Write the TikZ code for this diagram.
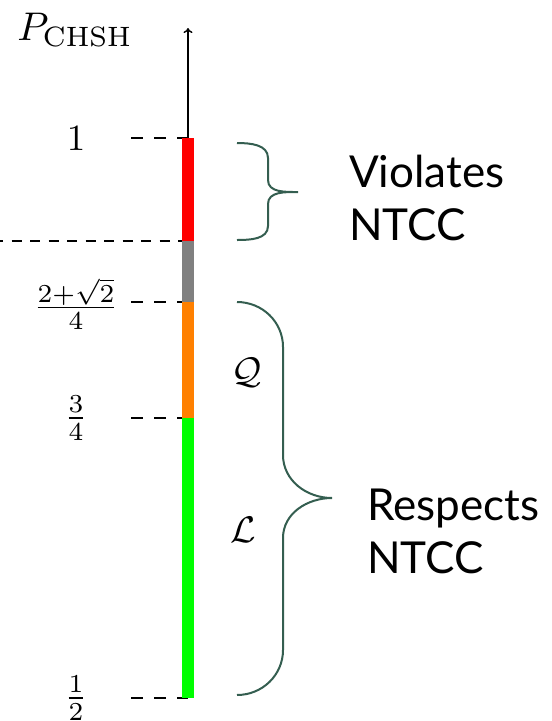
\documentclass[tikz,border=0pt]{standalone}
\usepackage{fontspec}
\newfontfamily\labelfont{Lato}
\usetikzlibrary{arrows.meta}
\definecolor{bracegreen}{RGB}{52,94,80}
\begin{document}
\begin{tikzpicture}[x=1pt,y=-1pt,
  tickline/.style={line width=2pt, dash pattern=on 12pt off 11pt},
  longdash/.style={line width=1.8pt, dash pattern=on 10pt off 8.5pt, dash phase=7pt},
  seg/.style={line width=12pt},
  bracepath/.style={draw=bracegreen, line width=2pt},
  mathlbl/.style={scale=3.7, inner sep=0pt},
  titlelbl/.style={scale=4, inner sep=0pt},
  side/.style={font=\labelfont\fontsize{44}{53}\selectfont, anchor=base west, inner sep=0pt}]
\useasboundingbox (0,0) rectangle (552,721);
% axis levels
\coordinate (top) at (188,28);
\coordinate (v1) at (188,138);
\coordinate (vx) at (188,241);
\coordinate (vq) at (188,302);
\coordinate (vl) at (188,418);
\coordinate (vh) at (188,698);
\coordinate (t1) at (131,138);
\coordinate (tx) at (0,241);
\coordinate (tq) at (131,302);
\coordinate (tl) at (131,418);
\coordinate (th) at (131,698);
% dashed ticks
\draw[tickline] (t1) -- (v1);
\draw[longdash] (tx) -- (vx);
\draw[tickline] (tq) -- (vq);
\draw[tickline] (tl) -- (vl);
\draw[tickline] (th) -- (vh);
% bar
\draw[seg, red] (v1) -- (vx);
\draw[seg, gray] (vx) -- (vq);
\draw[seg, orange] (vq) -- (vl);
\draw[seg, green] (vl) -- (vh);
% arrow
\draw[line width=1.4pt, -{To[length=5pt,width=9pt]}] (v1) -- (top);
% labels
\node[titlelbl] (pchsh) at (75,30) {$P_{\mathrm{CHSH}}$};
\node[mathlbl] (l1) at (76,139) {$1$};
\node[mathlbl] (lq) at (76,304) {$\frac{2+\sqrt{2}}{4}$};
\node[mathlbl] (ll) at (76,418) {$\frac{3}{4}$};
\node[mathlbl] (lh) at (76,698) {$\frac{1}{2}$};
\node[mathlbl] (q) at (247,373) {$\mathcal{Q}$};
\node[mathlbl] (lset) at (243,530) {$\mathcal{L}$};
% braces
\draw[bracepath] (237,143) to[out=0,in=90] (268,158) -- (268,180) to[out=-90,in=180] (298,192)
  to[out=180,in=90] (268,204) -- (268,226) to[out=-90,in=0] (237,240);
\draw[bracepath] (237,302) to[out=0,in=90] (283,347) -- (283,455) to[out=-90,in=180] (332,498)
  to[out=180,in=90] (283,538) -- (283,650) to[out=-90,in=0] (237,695);
% side texts
\node[side] (vio1) at (349,187) {Violates};
\node[side] (vio2) at (349,240) {NTCC};
\node[side] (res1) at (367,520) {Respects};
\node[side] (res2) at (367,573) {NTCC};
\end{tikzpicture}
\end{document}
